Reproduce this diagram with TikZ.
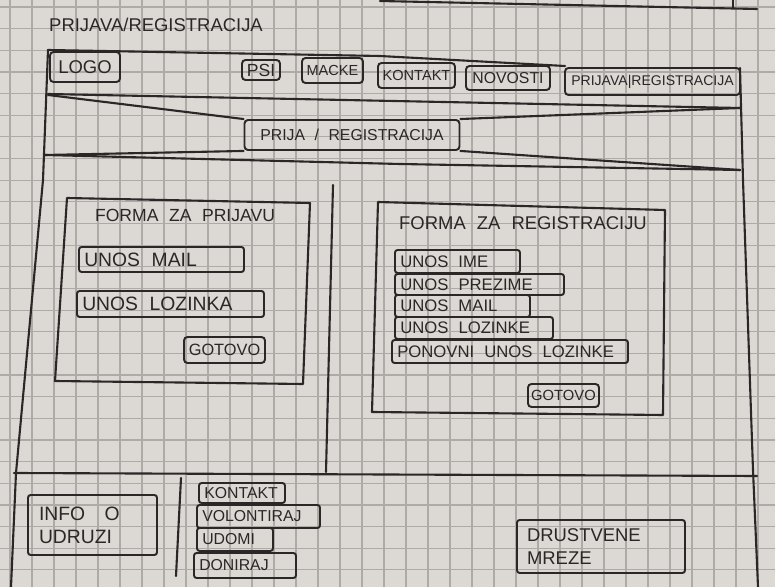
\documentclass[tikz,border=0pt]{standalone}
\usepackage{fontspec}
\usepackage{xcolor}
\usepackage{tikz}
\newfontfamily\hand{Liberation Sans}
\newcommand{\hw}[1]{\hand\fontsize{#1}{13}\selectfont\spaceskip=0.6em plus 0.1em}
\definecolor{paper}{HTML}{DCD8D3}
\definecolor{gridc}{HTML}{AEABA7}
\definecolor{ink}{HTML}{2B2727}

\begin{document}
\begin{tikzpicture}[x=0.02cm, y=-0.02cm, ink,
            gridline/.style={gridc, line width=0.65pt},
            frame/.style={ink, line width=1.2pt, line join=round, line cap=round},
            btn/.style={draw=ink, line width=1.1pt, rounded corners=2pt, inner sep=0pt, text=ink},
            field/.style={draw=ink, line width=1.1pt, rounded corners=1.5pt, inner xsep=3pt, inner ysep=0pt, align=left, text=ink,
                execute at begin node={\spaceskip=0.6em plus 0.1em\relax}}]

            \useasboundingbox (0,0) rectangle (775,587);
            \fill[paper] (0,0) rectangle (775,587);
            \foreach \gx in {0,...,35} \draw[gridline] (10+22*\gx,0) -- (10+22*\gx,587);
            \foreach \gy in {0,...,27} \draw[gridline] (0,7+21.65*\gy) -- (775,7+21.65*\gy);

            \draw[frame] (380,1) -- (757,9);
            \draw[frame] (733,0) -- (733,8);

            \node[font=\hw{10.5}] (title) at (156,25) {PRIJAVA/REGISTRACIJA};

            \draw[frame] (48,50) -- (43,180) -- (16,473) -- (11,587);
            \draw[frame] (740,68) -- (743,180) -- (753,470) -- (758,587);
            \draw[frame] (48,50) -- (380,56) -- (565,66);
            \draw[frame] (48,94) -- (740,108);
            \draw[frame] (45,155) -- (400,164) -- (740,170);

            \node[btn, minimum width=1.4cm, minimum height=0.6cm, font=\hw{10.5}] (logo) at (85,67) {LOGO};
            \node[btn, minimum width=0.76cm, minimum height=0.4cm, font=\hw{10}] (psi) at (261,70) {PSI};
            \node[btn, minimum width=1.22cm, minimum height=0.5cm, font=\hw{8.3}] (macke) at (332.5,70.5) {MACKE};
            \node[btn, minimum width=1.54cm, minimum height=0.5cm, font=\hw{8.3}] (kontakt) at (416.5,75.5) {KONTAKT};
            \node[btn, minimum width=1.68cm, minimum height=0.48cm, font=\hw{9}] (novosti) at (508,78) {NOVOSTI};
            \node[btn, minimum width=3.5cm, minimum height=0.54cm, font=\hw{8}] (navprijava) at (652.5,81.5) {PRIJAVA|REGISTRACIJA};

            \node[btn, minimum width=4.3cm, minimum height=0.6cm, font=\hw{9}] (hero) at (352,135) {PRIJA / REGISTRACIJA};
            \draw[frame] (48,95) -- (hero.north west);
            \draw[frame] (45,155) -- (hero.south west);
            \draw[frame] (hero.north east) -- (740,108);
            \draw[frame] (hero.south east) -- (740,170);

            \draw[frame] (333,185) -- (326,472);
            \draw[frame] (14,473) -- (757,476);
            \draw[frame] (181,478) -- (176,576);

            \draw[frame] (67,198) -- (310,203) -- (303,384) -- (55,381) -- cycle;
            \node[font=\hw{10}] (formaprijava) at (185,215) {FORMA ZA PRIJAVU};
            \node[field, text width=3.09cm, minimum height=0.5cm, font=\hw{11}] (unosmail) at (161.5,259.5) {UNOS MAIL};
            \node[field, text width=3.53cm, minimum height=0.52cm, font=\hw{11}] (unoslozinka) at (170.5,304) {UNOS LOZINKA};
            \node[btn, minimum width=1.62cm, minimum height=0.52cm, font=\hw{9.3}] (gotovoprijava) at (224.5,350) {GOTOVO};

            \draw[frame] (378,202) -- (665,210) -- (663,415) -- (372,412) -- cycle;
            \node[font=\hw{10.5}] (formaregistracija) at (523,223) {FORMA ZA REGISTRACIJU};
            \node[field, text width=2.29cm, minimum height=0.46cm, font=\hw{9.5}] (unosime) at (457.5,261.5) {UNOS IME};
            \node[field, text width=3.17cm, minimum height=0.42cm, font=\hw{9.5}] (unosprezime) at (479.5,284.5) {UNOS PREZIME};
            \node[field, text width=2.49cm, minimum height=0.44cm, font=\hw{9.5}] (unosmailreg) at (462.5,306) {UNOS MAIL};
            \node[field, text width=2.95cm, minimum height=0.44cm, font=\hw{9.5}] (unoslozinke) at (474,328) {UNOS LOZINKE};
            \node[field, text width=4.51cm, minimum height=0.46cm, font=\hw{9.5}] (ponovni) at (510,351.5) {PONOVNI UNOS LOZINKE};
            \node[btn, minimum width=1.42cm, minimum height=0.46cm, font=\hw{8.4}] (gotovoreg) at (563.5,395.5) {GOTOVO};

            \node[field, inner xsep=0.22cm, text width=2.14cm, minimum height=1.2cm, font=\hw{11}] (info) at (92.5,525) {INFO\quad O\\UDRUZI};
            \node[field, text width=1.51cm, minimum height=0.4cm, font=\hw{9}] (fkontakt) at (242,493) {KONTAKT};
            \node[field, text width=2.25cm, minimum height=0.46cm, font=\hw{9}] (fvolontiraj) at (258.5,516.5) {VOLONTIRAJ};
            \node[field, text width=1.31cm, minimum height=0.46cm, font=\hw{9}] (fudomi) at (235,539.5) {UDOMI};
            \node[field, text width=1.83cm, minimum height=0.5cm, font=\hw{9}] (fdoniraj) at (245,565.5) {DONIRAJ};
            \node[field, inner xsep=0.2cm, text width=2.96cm, minimum height=1.06cm, font=\hw{10.5}] (mreze) at (601,546.5) {DRUSTVENE\\MREZE};

        \end{tikzpicture}
\end{document}
